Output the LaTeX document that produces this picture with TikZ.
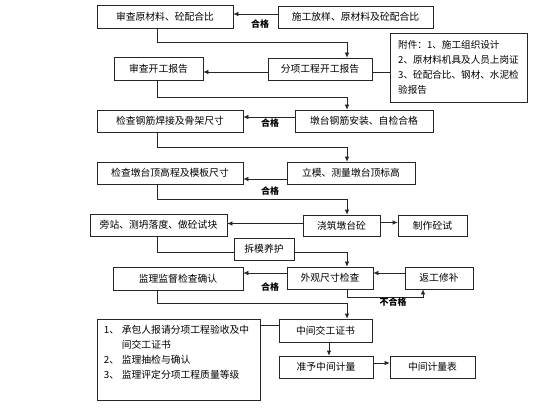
\documentclass[tikz,border=0pt]{standalone}
\usepackage{fontspec}
\setmainfont{Noto Sans CJK SC}
\usetikzlibrary{arrows.meta,calc}
\begin{document}
\begin{tikzpicture}[x=1pt,y=-1pt,
 box/.style={draw=black!85, line width=0.7pt, rectangle, inner sep=0pt, font=\fontsize{9.8}{12}\selectfont},
 arr/.style={draw=black!85, line width=0.7pt, -{Latex[length=5pt,width=4.5pt]}},
 ln/.style={draw=black!85, line width=0.7pt},
 lbl/.style={font=\fontsize{9}{11}\selectfont\bfseries}]
\useasboundingbox[fill=white] (0,0) rectangle (560,412);
\coordinate (tL) at (157,0);
\coordinate (tR) at (347,0);
\coordinate (tM) at (329,0);
\coordinate (rw) at (423,0);
% boxes
\node[box,minimum width=136pt,minimum height=23pt] (b1) at (165,16.5) {审查原材料、砼配合比};
\node[box,minimum width=155pt,minimum height=22pt] (b2) at (355.5,17) {施工放样、原材料及砼配合比};
\node[box,minimum width=89pt,minimum height=23pt] (b3) at (158.5,68.5) {审查开工报告};
\node[box,minimum width=104pt,minimum height=22pt] (b4) at (320,69) {分项工程开工报告};
\node[box,minimum width=137pt,minimum height=69pt,align=left,inner sep=6pt,font=\fontsize{9.6}{15}\selectfont] (att) at (458.5,67.5) {附件：1、施工组织设计\\2、原材料机具及人员上岗证\\3、砼配合比、钢材、水泥检\\验报告};
\node[box,minimum width=146pt,minimum height=22pt] (b5) at (170,121) {检查钢筋焊接及骨架尺寸};
\node[box,minimum width=138pt,minimum height=22pt] (b6) at (364,121) {墩台钢筋安装、自检合格};
\node[box,minimum width=146pt,minimum height=22pt] (b7) at (170,173) {检查墩台顶高程及模板尺寸};
\node[box,minimum width=128pt,minimum height=22pt] (b8) at (351,173) {立模、测量墩台顶标高};
\node[box,minimum width=137pt,minimum height=22pt] (b9) at (158.5,225) {旁站、测坍落度、做砼试块};
\node[box,minimum width=77pt,minimum height=21pt] (b10) at (341.5,225.5) {浇筑墩台砼};
\node[box,minimum width=69pt,minimum height=21pt] (b11) at (432.5,225.5) {制作砼试};
\node[box,minimum width=60pt,minimum height=22pt] (b12) at (264,249) {拆模养护};
\node[box,minimum width=86pt,minimum height=22pt] (b13) at (330,278) {外观尺寸检查};
\node[box,minimum width=130pt,minimum height=23pt] (b14) at (178,278.5) {监理监督检查确认};
\node[box,minimum width=68pt,minimum height=22pt] (b15) at (439,278) {返工修补};
\node[box,minimum width=93pt,minimum height=23pt] (b16) at (325.5,330.5) {中间交工证书};
\node[box,minimum width=163pt,minimum height=81pt] (b17) at (178.5,359.5) {};
\node[anchor=north west,inner sep=0pt,font=\fontsize{9.8}{15}\selectfont] (b17t) at ($(b17.north west)+(7,4)$) {%
\begin{tabular}{@{}p{18pt}@{}l@{}}
1、 & 承包人报请分项工程验收及中\\
    & 间交工证书\\
2、 & 监理抽检与确认\\
3、 & 监理评定分项工程质量等级
\end{tabular}};
\node[box,minimum width=94pt,minimum height=22pt] (b18) at (326,367) {准予中间计量};
\node[box,minimum width=85pt,minimum height=22pt] (b19) at (432.5,367) {中间计量表};
% connectors
\draw[arr] ([yshift=3pt]b2.west) -- ([yshift=3pt]b2.west -| b1.east);
\node[lbl] (g1) at (260,24) {合格};
\draw[arr] (b1.south -| tL) -- ++(0,14) -| (b4.north -| tR);
\draw[arr] ([yshift=-3pt]b4.west) -- ([yshift=-3pt]b4.west -| b3.east);
\draw[ln] ([yshift=-3pt]b4.east) -- ([yshift=-3pt]b4.east -| att.west);
\draw[arr] (b3.south -| tL) -- ++(0,17) -| (b6.north -| tR);
\draw[arr] ([yshift=4pt]b6.west) -- ([yshift=4pt]b6.west -| b5.east);
\node[lbl] (g2) at (270,123) {合格};
\draw[arr] (b5.south -| tL) -- ++(0,15) -| (b8.north -| tR);
\draw[arr] ([yshift=-6pt]b8.west) -- ([yshift=-6pt]b8.west -| b7.east);
\node[lbl] (g3) at (270,191) {合格};
\draw[arr] (b7.south -| tL) -- ++(0,15) -| (b10.north -| tR);
\draw[arr] ([yshift=2pt]b10.west) -- ([yshift=2pt]b10.west -| b9.east);
\draw[arr] ([yshift=3pt]b10.east) -- ([yshift=3pt]b10.east -| b11.west);
\draw[ln] (b9.south -| tL) |- ([yshift=-3pt]b12.west);
\draw[arr] ([yshift=-3pt]b12.east) -| (b13.north -| tR);
\draw[arr] ([yshift=5pt]b13.west) -- ([yshift=5pt]b13.west -| b14.east);
\node[lbl] (g4) at (270,287) {合格};
\draw[arr] ([yshift=5pt]b15.west) -- ([yshift=5pt]b15.west -| b13.east);
\draw[arr] (b13.south -| tR) -- ++(0,8) -| (b15.south -| rw);
\node[lbl] (g5) at (393,302) {不合格};
\draw[arr] (b14.south -| tL) -- ++(0,13) -| (b16.north -| tR);
\draw[ln] ([yshift=5pt]b16.west -| b17.east) -- ([yshift=5pt]b16.west);
\draw[arr] (b16.south -| tM) -- (b18.north -| tM);
\draw[arr] ([yshift=4pt]b18.east) -- ([yshift=4pt]b18.east -| b19.west);
\end{tikzpicture}
\end{document}
